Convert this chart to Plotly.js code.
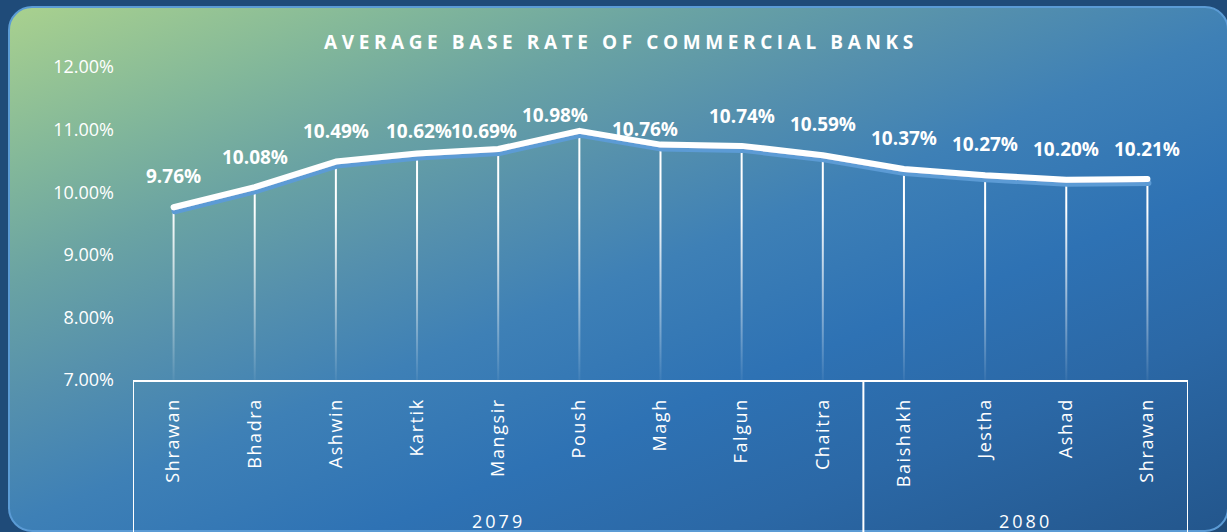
<!DOCTYPE html>
<html>
<head>
<meta charset="utf-8">
<script src="https://cdn.plot.ly/plotly-3.0.1.min.js"></script>
<style>
  html, body { margin:0; padding:0; width:1227px; height:532px; overflow:hidden; background:#1f4b79; }
  #card {
    position:absolute; left:8px; top:6px; width:1221px; height:526px; box-sizing:border-box;
    border:2px solid #5b9bd5; border-radius:24px;
    background: linear-gradient(158deg, #a9d18e 0%, #82b79a 16%, #6aa3a3 27%, #5590ad 39%, #3e80b6 51%, #2e72b4 66%, #2b68a6 80%, #23568c 100%);
  }
  #chart { position:absolute; left:0; top:0; width:1227px; height:532px; }
  .xtick text { letter-spacing: 1.6px; }
  .gtitle { letter-spacing: 4.6px; }
  .annotation[data-index="13"] text, .annotation[data-index="14"] text { letter-spacing: 3px; }
  .scatterlayer .js-line { stroke-linejoin: round; stroke-linecap: round; filter: url(#lineShadow); }
  .errorbar path { stroke: url(#dropFade) !important; }
</style>
</head>
<body>
<svg width="0" height="0" style="position:absolute">
  <defs>
    <filter id="lineShadow" x="-3%" y="-60%" width="106%" height="220%">
      <feOffset in="SourceAlpha" dx="1" dy="4" result="off"/>
      <feGaussianBlur in="off" stdDeviation="0.6" result="blur"/>
      <feFlood flood-color="#5b9bd5"/>
      <feComposite in2="blur" operator="in" result="shadow"/>
      <feMerge><feMergeNode in="shadow"/><feMergeNode in="SourceGraphic"/></feMerge>
    </filter>
    <linearGradient id="dropFade" gradientUnits="userSpaceOnUse" x1="0" y1="0" x2="0" y2="313">
      <stop offset="0.45" stop-color="#ffffff" stop-opacity="1"/>
      <stop offset="1" stop-color="#ffffff" stop-opacity="0.05"/>
    </linearGradient>
  </defs>
</svg>
<div id="card"></div>
<div id="chart"></div>
<script>
// ---- data ----
const months = ['Shrawan','Bhadra','Ashwin','Kartik','Mangsir','Poush','Magh','Falgun','Chaitra','Baishakh','Jestha','Ashad','Shrawan'];
const years = ['2079','2079','2079','2079','2079','2079','2079','2079','2079','2080','2080','2080','2080'];
const baseRate = [9.76, 10.08, 10.49, 10.62, 10.69, 10.98, 10.76, 10.74, 10.59, 10.37, 10.27, 10.20, 10.21];
const yTickVals = [7, 8, 9, 10, 11, 12];
const chartTitle = 'AVERAGE BASE RATE OF COMMERCIAL BANKS';

// ---- label placement tweaks (pixels) ----
const labelShiftX = [0, 0, 0, 2, -14, -24, -16, 0, 0, 0, 0, 0, 0];
const labelShiftY = [31, 30, 31, 22, 18, 16, 16, 30, 31, 31, 31, 31, 30];

const idx = months.map((_, i) => i);
const yMin = yTickVals[0], yMax = yTickVals[yTickVals.length - 1];

const trace = {
  x: idx, y: baseRate, type: 'scatter', mode: 'lines',
  line: { color: '#ffffff', width: 6 },
  error_y: { type: 'data', symmetric: false, array: baseRate.map(() => 0),
             arrayminus: baseRate.map(v => v - yMin), color: '#ffffff', thickness: 2, width: 0 },
  hoverinfo: 'skip', showlegend: false
};

const annotations = baseRate.map((v, i) => ({
  x: i, y: v, xref: 'x', yref: 'y', text: v.toFixed(2) + '%', showarrow: false,
  xanchor: 'center', yanchor: 'middle', xshift: labelShiftX[i], yshift: labelShiftY[i],
  font: { family: 'Open Sans', size: 19, color: '#ffffff', weight: 700 }
}));

// year groups
const groups = [];
years.forEach((yr, i) => {
  const g = groups[groups.length - 1];
  if (g && g.year === yr) g.end = i; else groups.push({ year: yr, start: i, end: i });
});
const shapes = [];
const lineStyle = { color: '#ffffff', width: 2 };
groups.forEach((g, k) => {
  annotations.push({
    x: (g.start + g.end) / 2, y: -0.452, xref: 'x', yref: 'paper', text: g.year, showarrow: false,
    xanchor: 'center', yanchor: 'middle',
    font: { family: 'Open Sans', size: 18, color: '#ffffff' }
  });
  if (k === 0) shapes.push({ type: 'line', xref: 'x', yref: 'paper', x0: g.start - 0.5, x1: g.start - 0.5, y0: 0, y1: -0.7, line: lineStyle });
  shapes.push({ type: 'line', xref: 'x', yref: 'paper', x0: g.end + 0.5, x1: g.end + 0.5, y0: 0, y1: -0.7, line: lineStyle });
});

const layout = {
  width: 1227, height: 532,
  margin: { l: 133, r: 39, t: 67, b: 152 },
  paper_bgcolor: 'rgba(0,0,0,0)', plot_bgcolor: 'rgba(0,0,0,0)',
  font: { family: 'Open Sans', color: '#ffffff' },
  title: { text: chartTitle, x: 0.506, xref: 'container', xanchor: 'center', y: 0.921, yref: 'container', yanchor: 'middle',
           font: { family: 'Open Sans', size: 19, color: '#ffffff', weight: 700 } },
  xaxis: {
    range: [-0.5, months.length - 0.5], tickvals: idx, ticktext: months, tickangle: -90,
    tickfont: { family: 'Open Sans', size: 18, color: '#ffffff' },
    showgrid: false, zeroline: false, showline: true, linecolor: '#ffffff', linewidth: 2,
    ticks: '', ticklabelstandoff: 9, fixedrange: true
  },
  yaxis: {
    range: [yMin, yMax], tickvals: yTickVals, ticktext: yTickVals.map(v => v.toFixed(2) + '%'),
    tickfont: { family: 'Open Sans', size: 18, color: '#ffffff' },
    showgrid: false, zeroline: false, showline: false, ticks: '', ticklabelstandoff: 18, fixedrange: true
  },
  annotations: annotations,
  shapes: shapes
};

Plotly.newPlot('chart', [trace], layout, { staticPlot: true, displayModeBar: false });
</script>
</body>
</html>
